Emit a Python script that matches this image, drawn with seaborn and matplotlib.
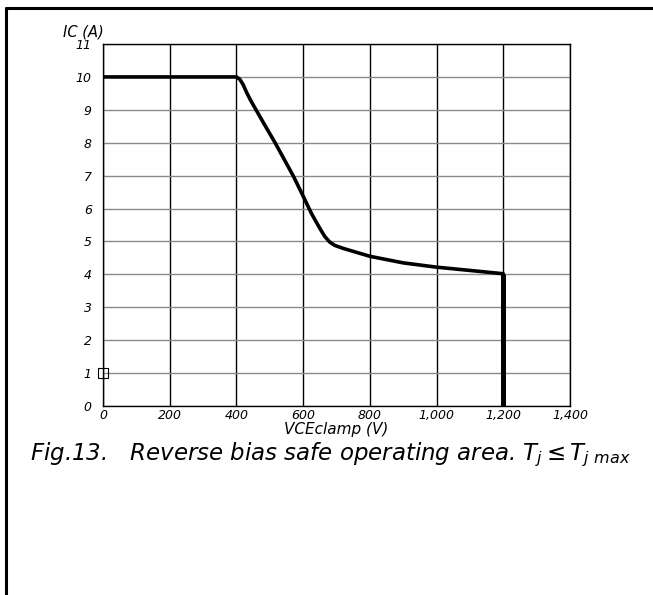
import numpy as np
import pandas as pd
import matplotlib
matplotlib.use('Agg')
import matplotlib.pyplot as plt
import seaborn as sns
from matplotlib.lines import Line2D

# RBSOA boundary
vce = [0, 400, 410, 420, 430, 442, 456, 486, 516, 570, 600, 625, 650, 665, 680, 695, 720,
       750, 800, 900, 1000, 1100, 1200]
ic = [10, 10, 9.93, 9.77, 9.54, 9.3, 9.05, 8.52, 8.0, 7.0, 6.38, 5.85, 5.4, 5.15, 4.98, 4.88, 4.79,
      4.7, 4.55, 4.35, 4.22, 4.12, 4.02]
drop_x = [1200, 1200]
drop_y = [4.02, 0]
x_ticks = [0, 200, 400, 600, 800, 1000, 1200, 1400]
x_labels = ['0', '200', '400', '600', '800', '1,000', '1,200', '1,400']
y_ticks = list(range(0, 12))

sns.set_style('white')
plt.rcParams['font.family'] = ['DejaVu Sans']
plt.rcParams['mathtext.fontset'] = 'dejavusans'
plt.rcParams['text.color'] = 'black'
plt.rcParams['axes.labelcolor'] = 'black'
plt.rcParams['xtick.color'] = 'black'
plt.rcParams['ytick.color'] = 'black'

df = pd.DataFrame({'VCE': vce, 'IC': ic})

fig = plt.figure(figsize=(6.53, 5.95), dpi=100)
ax = fig.add_axes([0.1577, 0.3176, 0.7152, 0.6084])

for x in x_ticks:
    ax.axvline(x, color='black', lw=1.0, zorder=1)
for y in y_ticks:
    ax.axhline(y, color='#8a8a8a', lw=1.0, zorder=1)

sns.lineplot(data=df, x='VCE', y='IC', sort=False, color='black', lw=2.6, ax=ax, zorder=3)
ax.plot(drop_x, drop_y, color='black', lw=3.6, zorder=3, solid_capstyle='butt')
ax.plot([0], [1], marker='s', ms=7, mfc='none', mec='black', mew=0.8, clip_on=False, zorder=4)

ax.set_xlim(0, 1400)
ax.set_ylim(0, 11)
ax.set_xticks(x_ticks)
ax.set_xticklabels(x_labels, fontstyle='italic', fontsize=9)
ax.set_yticks(y_ticks)
ax.set_yticklabels([str(v) for v in y_ticks], fontstyle='italic', fontsize=9)
ax.set_yticks(np.arange(0.5, 11, 1), minor=True)
ax.tick_params(axis='x', which='major', length=0, pad=2)
ax.tick_params(axis='y', which='major', length=0, pad=8)
ax.tick_params(axis='y', which='minor', direction='in', length=5, width=0.8, color='black')
ax.tick_params(axis='x', which='minor', length=0)
for s in ax.spines.values():
    s.set_color('black')
    s.set_linewidth(1.0)

ax.set_xlabel('VCEclamp (V)', fontstyle='italic', fontsize=11, labelpad=0)
ax.set_ylabel('')
fig.text(63 / 653, 1 - 32 / 595, 'IC (A)', fontstyle='italic', fontsize=10.5,
         ha='left', va='center')

fig.text(30 / 653, 1 - 455 / 595,
         r'Fig.13.   Reverse bias safe operating area. $T_j \leq T_{j\ max}$',
         fontstyle='italic', fontsize=16.5, ha='left', va='center')

# outer frame (left and top only)
fig.add_artist(Line2D([6 / 653, 6 / 653], [0, 1 - 8 / 595], color='black', lw=2.2,
                      transform=fig.transFigure))
fig.add_artist(Line2D([6 / 653, 1], [1 - 8 / 595, 1 - 8 / 595], color='black', lw=2.2,
                      transform=fig.transFigure))

fig.savefig('out.png', dpi=100)
